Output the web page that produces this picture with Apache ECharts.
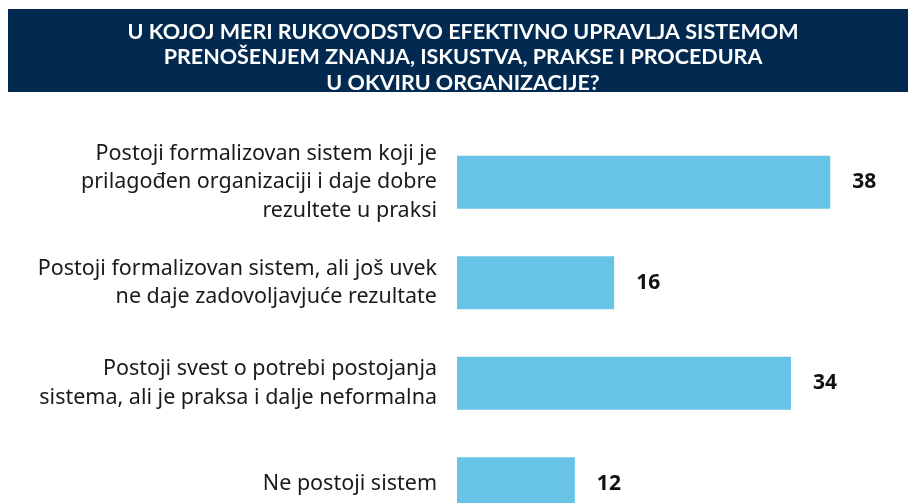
<!DOCTYPE html>
<html>
<head>
<meta charset="utf-8">
<script src="https://cdn.jsdelivr.net/npm/echarts@6/dist/echarts.min.js"></script>
<style>
  html, body { margin: 0; padding: 0; background: #fff; }
  #main { width: 908px; height: 503px; }
</style>
</head>
<body>
<div id="main"></div>
<script>
var titleLines = [
  "U KOJOJ MERI RUKOVODSTVO EFEKTIVNO UPRAVLJA SISTEMOM",
  "PRENOŠENJEM ZNANJA, ISKUSTVA, PRAKSE I PROCEDURA",
  "U OKVIRU ORGANIZACIJE?"
];
var categories = [
  "Postoji formalizovan sistem koji je\nprilagođen organizaciji i daje dobre\nrezultete u praksi",
  "Postoji formalizovan sistem, ali još uvek\nne daje zadovoljavjuće rezultate",
  "Postoji svest o potrebi postojanja\nsistema, ali je praksa i dalje neformalna",
  "Ne postoji sistem"
];
var values = [38, 16, 34, 12];

var myChart = echarts.init(document.getElementById("main"));

var option = {
  animation: false,
  backgroundColor: "#ffffff",
  graphic: [
    {
      type: "rect",
      left: 8,
      top: 9,
      shape: { width: 900, height: 83 },
      style: { fill: "#022a51" },
      z: 0
    }
  ],
  title: {
    text: titleLines.join("\n"),
    left: 458,
    top: 14,
    textAlign: "center",
    textStyle: {
      color: "#ffffff",
      fontFamily: "Lato",
      fontWeight: "bold",
      fontSize: 21.5,
      lineHeight: 25.5
    },
    z: 5
  },
  grid: {
    left: 457,
    top: 132,
    width: 442,
    height: 402,
    outerBoundsMode: "none"
  },
  xAxis: {
    type: "value",
    min: 0,
    max: 45,
    show: false
  },
  yAxis: {
    type: "category",
    inverse: true,
    data: categories,
    axisLine: { show: false },
    axisTick: { show: false },
    axisLabel: {
      margin: 20,
      color: "#1a1a1a",
      fontFamily: "Noto Sans",
      fontSize: 21.5,
      lineHeight: 28.5,
      align: "right"
    }
  },
  series: [
    {
      type: "bar",
      data: values,
      barWidth: 53,
      itemStyle: { color: "#67c4e7" },
      label: {
        show: true,
        position: "right",
        distance: 22,
        color: "#111111",
        fontFamily: "Noto Sans",
        fontWeight: "bold",
        fontSize: 21
      }
    }
  ]
};

myChart.setOption(option);
</script>
</body>
</html>
